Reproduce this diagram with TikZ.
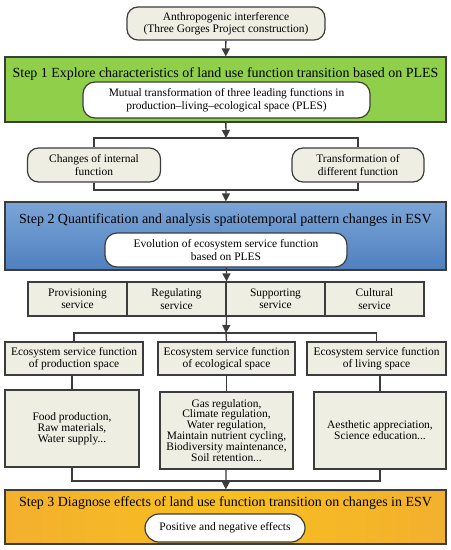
\documentclass[tikz,border=0pt]{standalone}
\usepackage{fontspec}
\setmainfont{Liberation Serif}
\usetikzlibrary{arrows.meta}
\definecolor{boxgray}{HTML}{EEEEE3}
\definecolor{linegray}{HTML}{3C3C3C}
\definecolor{stepgreen}{HTML}{8FCF4A}
\definecolor{stepbluetop}{HTML}{7BA5D8}
\definecolor{stepblue}{HTML}{4F80BE}
\definecolor{steporange}{HTML}{F8BF20}
\definecolor{steporangedark}{HTML}{F3B02E}
\begin{document}
\begin{tikzpicture}[x=1bp, y=-1bp,
  every node/.style={font=\fontsize{11.5}{12.5}\selectfont, align=center, inner sep=0pt},
  graybox/.style={draw=linegray, line width=1.2bp, fill=boxgray, minimum height=33bp},
  roundbox/.style={graybox, rounded corners=11bp},
  stepbox/.style={draw=linegray, line width=1.2bp, minimum width=441bp},
  steptitle/.style={font=\fontsize{14}{15}\selectfont},
  whitebox/.style={draw=linegray, line width=1.2bp, fill=white, rounded corners=12bp},
  listtext/.style={font=\fontsize{11.5}{11}\selectfont},
  conn/.style={draw=linegray, line width=1.3bp},
  arrow/.style={conn, -{Triangle[width=8bp,length=8bp]}}]
  \useasboundingbox (0,0) rectangle (451,550);

  % top
  \node[roundbox, minimum width=198bp] (anthro) at (226,23.5) {Anthropogenic interference\\(Three Gorges Project construction)};

  % step 1
  \node[stepbox, fill=stepgreen, minimum height=65bp] (step1) at (225.5,89.5) {};
  \node[steptitle] (title1) at (225.5,74) {Step 1 Explore characteristics of land use function transition based on PLES};
  \node[whitebox, minimum width=287bp, minimum height=36bp] (mutual) at (226.5,100) {Mutual transformation of three leading functions in\\production--living--ecological space (PLES)};

  \node[roundbox, minimum width=133bp, minimum height=34bp] (internal) at (94,165) {Changes of internal\\function};
  \node[roundbox, minimum width=132bp, minimum height=34bp] (different) at (358,165) {Transformation of\\different function};
  \coordinate (split1) at (226,138);
  \coordinate (merge1) at (226,190);

  % step 2
  \node[stepbox, top color=stepbluetop, bottom color=stepblue, draw=linegray, minimum height=68bp] (step2) at (225.5,236) {};
  \node[steptitle] (title2) at (225.5,220) {Step 2 Quantification and analysis spatiotemporal pattern changes in ESV};
  \node[whitebox, minimum width=242bp, minimum height=34bp] (evolution) at (226,250) {Evolution of ecosystem service function\\based on PLES};

  \node[graybox, minimum width=99bp, minimum height=34bp] (prov) at (77.5,299) {Provisioning\\service};
  \node[graybox, minimum width=99bp, minimum height=34bp] (reg) at (176.5,299) {Regulating\\service};
  \node[graybox, minimum width=99bp, minimum height=34bp] (supp) at (275.5,299) {Supporting\\service};
  \node[graybox, minimum width=99bp, minimum height=34bp] (cult) at (374.5,299) {Cultural\\service};
  \coordinate (split2) at (226,333);

  \node[graybox, minimum width=138bp] (hprod) at (74,358.5) {Ecosystem service function\\of production space};
  \node[graybox, minimum width=137bp] (heco) at (226.5,358.5) {Ecosystem service function\\of ecological space};
  \node[graybox, minimum width=139bp] (hliv) at (376.5,358.5) {Ecosystem service function\\of living space};

  \node[graybox, listtext, minimum width=134bp, minimum height=77bp] (cprod) at (72,428.5) {Food production,\\Raw materials,\\Water supply...};
  \node[graybox, listtext, minimum width=133bp, minimum height=77bp] (ceco) at (226.5,430.5) {Gas regulation,\\Climate regulation,\\Water regulation,\\Maintain nutrient cycling,\\Biodiversity maintenance,\\Soil retention...};
  \node[graybox, listtext, minimum width=132bp, minimum height=77bp] (cliv) at (380,430.5) {Aesthetic appreciation,\\Science education...};
  \coordinate (merge2) at (226,481);

  % step 3
  \node[stepbox, left color=steporangedark, right color=steporangedark, middle color=steporange, draw=linegray, minimum height=54bp] (step3) at (225.5,517) {};
  \node[steptitle] (title3) at (225.5,503) {Step 3 Diagnose effects of land use function transition on changes in ESV};
  \node[whitebox, rounded corners=14bp, minimum width=160bp, minimum height=28bp] (effects) at (225,528) {Positive and negative effects};

  % connectors
  \draw[arrow] (anthro) -- (step1);
  \draw[arrow] (step1) -- (split1);
  \draw[conn] (internal.north) |- (split1) -| (different.north);
  \draw[conn] (internal.south) |- (merge1) -| (different.south);
  \draw[arrow] (merge1) -- (step2);
  \draw[arrow] (evolution) -- (reg.north east);
  \draw[arrow] (reg.south east) -- (split2);
  \draw[conn] (hprod.north) |- (split2) -| (hliv.north);
  \draw[conn] (split2) -- (heco.north);
  \draw[conn] (cprod.north) -- (cprod.north |- hprod.south);
  \draw[conn] (ceco.north) -- (ceco.north |- heco.south);
  \draw[conn] (cliv.north) -- (cliv.north |- hliv.south);
  \draw[conn] (cprod.south) |- (merge2) -| (cliv.south);
  \draw[arrow] (ceco) -- (step3);
\end{tikzpicture}
\end{document}
